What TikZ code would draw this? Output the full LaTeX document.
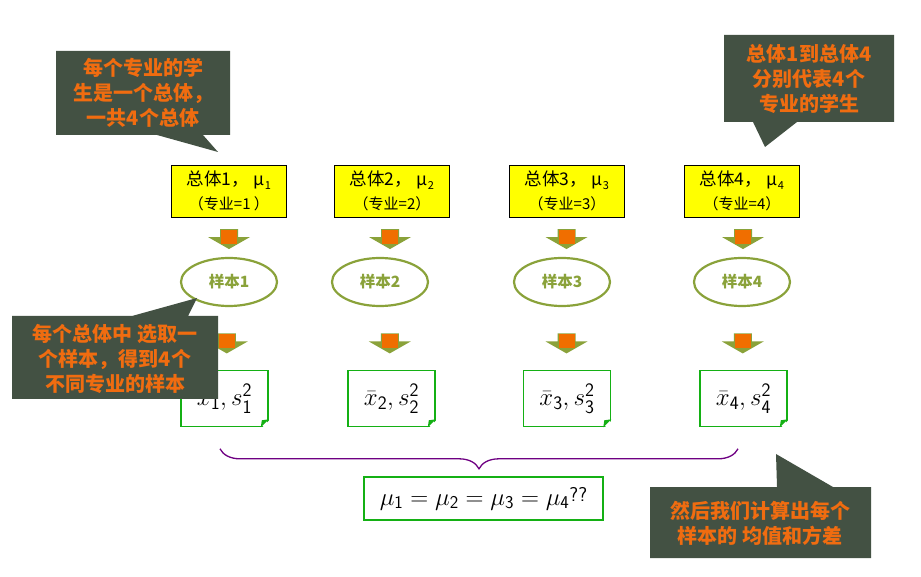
\documentclass[tikz,border=0pt]{standalone}
\usepackage{fontspec}
\usepackage{amsmath}
\usepackage{tikz}
\usetikzlibrary{shapes.geometric, calc, decorations.pathreplacing}
\newfontfamily\cjk{Noto Sans CJK SC}
\DeclareMathSizes{26}{26}{19}{15}
\DeclareMathSizes{25}{25}{18}{14}
\definecolor{notebg}{RGB}{67, 81, 67}
\definecolor{noteorange}{RGB}{240, 108, 16}
\definecolor{popyellow}{RGB}{255, 255, 0}
\definecolor{samplegreen}{RGB}{138, 162, 58}
\definecolor{arroworange}{RGB}{240, 110, 0}
\definecolor{resgreen}{RGB}{20, 176, 20}
\definecolor{bracepurple}{RGB}{110, 0, 130}

\begin{document}
\begin{tikzpicture}[x=1pt, y=1pt,
    popbox/.style={draw=black, fill=popyellow, minimum width=115, minimum height=52, inner sep=0, align=center, font=\cjk\fontsize{17.5}{24}\selectfont},
    sample/.style={ellipse, draw=samplegreen, line width=2.2pt, minimum width=96, minimum height=48, inner sep=0, text=samplegreen, font=\cjk\bfseries\fontsize{15.5}{15.5}\selectfont},
    resbox/.style={draw=resgreen, line width=1.6pt, fill=white, minimum width=87, minimum height=56, inner sep=0, font=\fontsize{26}{26}\selectfont},
    note/.style={fill=notebg},
    notetext/.style={text=noteorange, align=center, font=\cjk\bfseries\fontsize{20}{25}\selectfont},
    pics/blockarrow/.style={code={
        \fill[samplegreen] (-9,10) -- (9,10) -- (9,2) -- (21,2) -- (0,-10) -- (-21,2) -- (-9,2) -- cycle;
        \fill[arroworange] (-8,9) rectangle (8,-5);
    }}]
    \useasboundingbox (0,0) rectangle (921,576);

    % Populations
    \node[popbox] (pop1) at (229,385) {总体1，\;μ\raisebox{-4pt}{\fontsize{11}{11}\selectfont 1}\\{\fontsize{15}{15}\selectfont （专业=1 ）}};
    \node[popbox] (pop2) at (392,385) {总体2，\;μ\raisebox{-4pt}{\fontsize{11}{11}\selectfont 2}\\{\fontsize{15}{15}\selectfont （专业=2）}};
    \node[popbox] (pop3) at (567,385) {总体3，\;μ\raisebox{-4pt}{\fontsize{11}{11}\selectfont 3}\\{\fontsize{15}{15}\selectfont （专业=3）}};
    \node[popbox] (pop4) at (742,385) {总体4，\;μ\raisebox{-4pt}{\fontsize{11}{11}\selectfont 4}\\{\fontsize{15}{15}\selectfont （专业=4）}};

    % Samples
    \node[sample] (smp1) at (229,294) {样本1};
    \node[sample] (smp2) at (380,294) {样本2};
    \node[sample] (smp3) at (562,294) {样本3};
    \node[sample] (smp4) at (742,294) {样本4};

    % Sample statistics
    \node[resbox] (res1) at (224.5,177.5) {$\bar{x}_{\mathsf{1}}, s_{\mathsf{1}}^{\mathsf{2}}$};
    \node[resbox] (res2) at (391.5,177.5) {$\bar{x}_{\mathsf{2}}, s_{\mathsf{2}}^{\mathsf{2}}$};
    \node[resbox] (res3) at (567,177.5) {$\bar{x}_{\mathsf{3}}, s_{\mathsf{3}}^{\mathsf{2}}$};
    \node[resbox] (res4) at (743.5,177.5) {$\bar{x}_{\mathsf{4}}, s_{\mathsf{4}}^{\mathsf{2}}$};
    \foreach \r in {res1, res2, res3, res4} {
        \fill[white] ($(\r.south east)+(-8,-1.5)$) -- ($(\r.south east)+(1.5,-1.5)$) -- ($(\r.south east)+(1.5,8)$) -- cycle;
        \fill[resgreen] ($(\r.south east)+(-8,0)$) -- ($(\r.south east)+(0,8)$) -- ($(\r.south east)+(-7,7)$) -- cycle;
    }

    % Block arrows
    \pic at ($(pop1.south)!.5!(smp1.north)+(0,-2)$) {blockarrow};
    \pic at ($(pop2.south)!.5!(smp2.north)+(4,-2)$) {blockarrow};
    \pic at ($(pop3.south)!.5!(smp3.north)+(2,-2)$) {blockarrow};
    \pic at ($(pop4.south)!.5!(smp4.north)+(1,-2)$) {blockarrow};
    \pic at ($(smp1.south)!.5!(res1.north)+(0,-5)$) {blockarrow};
    \pic at ($(smp2.south)!.5!(res2.north)+(4,-5)$) {blockarrow};
    \pic at ($(smp3.south)!.5!(res3.north)+(2,-5)$) {blockarrow};
    \pic at ($(smp4.south)!.5!(res4.north)+(0,-5)$) {blockarrow};

    % Brace and question
    \coordinate (bl) at ($(res1.south)+(-4.5,-21.5)$);
    \coordinate (br) at ($(res4.south)+(-5.5,-21.5)$);
    \draw[bracepurple, line width=1.3pt, decorate, decoration={brace, mirror, amplitude=20pt}] (bl) -- (br);
    \node[draw=resgreen, line width=1.6pt, minimum width=239, minimum height=43, inner sep=0, font=\fontsize{25}{25}\selectfont] (eq) at (483.5,77.5) {$\mu_{\mathsf{1}}=\mu_{\mathsf{2}}=\mu_{\mathsf{3}}=\mu_{\mathsf{4}}$\raisebox{4pt}{\sffamily\fontsize{20}{20}\selectfont ??}};

    % Notes
    \fill[note] (56,525) -- (230,525) -- (230,441) -- (203,441) -- (218,424) -- (157,441) -- (56,441) -- cycle;
    \node[notetext] (note1) at (143,483) {每个专业的学\\生是一个总体，\\一共4个总体};
    \fill[note] (724,541) -- (894,541) -- (894,454) -- (797,454) -- (765,429) -- (753,454) -- (724,454) -- cycle;
    \node[notetext] (note2) at (809,497) {总体1到总体4\\分别代表4个\\专业的学生};
    \fill[note] (12,260) -- (132,260) -- (197,278) -- (188,260) -- (218,260) -- (218,177) -- (12,177) -- cycle;
    \node[notetext] (note3) at (115,217) {每个总体中 选取一\\个样本，得到4个\\不同专业的样本};
    \fill[note] (650,89) -- (777,89) -- (776,122) -- (833,89) -- (871,89) -- (871,18) -- (650,18) -- cycle;
    \node[notetext] (note4) at (760,53) {然后我们计算出每个\\样本的 均值和方差};
\end{tikzpicture}
\end{document}
